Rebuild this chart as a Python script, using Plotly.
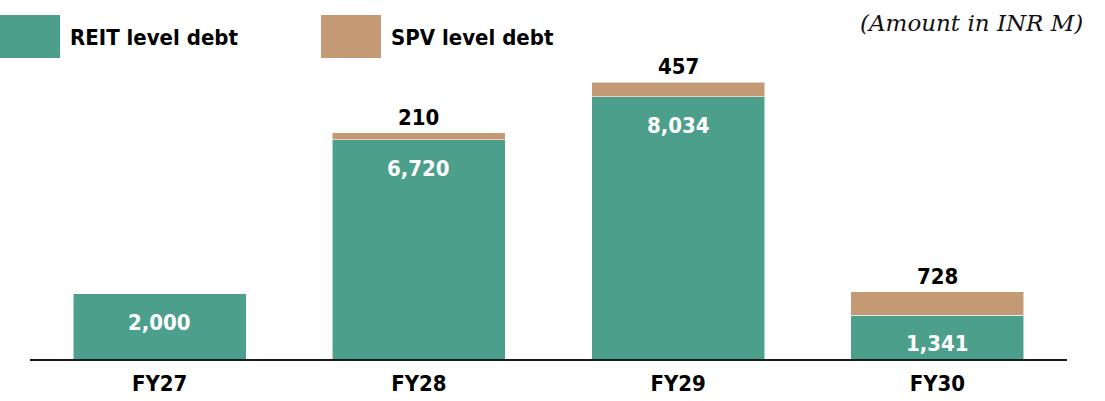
import plotly.graph_objects as go

categories = ["FY27", "FY28", "FY29", "FY30"]
reit_debt = [2000, 6720, 8034, 1341]
spv_debt = [0, 210, 457, 728]
reit_labels = ["2,000", "6,720", "8,034", "1,341"]
spv_labels = ["", "210", "457", "728"]

GREEN = "#4B9F8B"
TAN = "#C49A75"
FONT = "DejaVu Sans Condensed, DejaVu Sans, sans-serif"

fig = go.Figure()
fig.add_trace(go.Bar(x=categories, y=reit_debt, name="REIT level debt",
                     marker=dict(color=GREEN, line=dict(color="rgba(255,255,255,0.55)", width=1)),
                     hoverinfo="skip"))
fig.add_trace(go.Bar(x=categories, y=spv_debt, name="SPV level debt",
                     marker=dict(color=TAN, line=dict(color="rgba(255,255,255,0.55)", width=1)),
                     hoverinfo="skip"))

annotations = []
for c, r, s, rl, sl in zip(categories, reit_debt, spv_debt, reit_labels, spv_labels):
    annotations.append(dict(x=c, y=r, xref="x", yref="y", text=rl, showarrow=False,
                            yanchor="top", yshift=-14,
                            font=dict(family=FONT, size=22, color="white", weight="bold")))
    if sl:
        annotations.append(dict(x=c, y=r + s, xref="x", yref="y", text=sl, showarrow=False,
                                yanchor="bottom", yshift=1,
                                font=dict(family=FONT, size=22, color="black", weight="bold")))

# legend (custom swatches)
legend_items = [("REIT level debt", GREEN, 0), ("SPV level debt", TAN, 321)]
shapes = []
for label, col, x0 in legend_items:
    shapes.append(dict(type="rect", xref="paper", yref="paper",
                       x0=(x0 - 30) / 1037, x1=(x0 + 60 - 30) / 1037,
                       y0=(359 - 58) / 299, y1=(359 - 15) / 299,
                       fillcolor=col, line=dict(width=0), layer="above"))
    annotations.append(dict(xref="paper", yref="paper", x=(x0 + 68 - 30) / 1037,
                            y=(359 - 37) / 299, xanchor="left", yanchor="middle",
                            text=label, showarrow=False,
                            font=dict(family=FONT, size=22, color="black", weight="bold")))

annotations.append(dict(xref="paper", yref="paper", x=(1085 - 30) / 1037, y=(359 - 23) / 299,
                        xanchor="right", yanchor="middle", showarrow=False,
                        text="(Amount in INR M)",
                        font=dict(family="DejaVu Serif, serif", size=23, color="#111",
                                  style="italic")))

fig.update_layout(
    width=1105, height=401,
    margin=dict(l=30, r=38, t=60, b=42, autoexpand=False),
    barmode="stack", bargap=0.333,
    plot_bgcolor="white", paper_bgcolor="white",
    showlegend=False,
    annotations=annotations, shapes=shapes,
    xaxis=dict(showline=True, linecolor="#1a1a1a", linewidth=2, ticks="",
               automargin=False, ticklabelstandoff=4,
               tickfont=dict(family=FONT, size=22, color="black", weight="bold"),
               showgrid=False, fixedrange=True),
    yaxis=dict(range=[0, 9166], visible=False, showgrid=False, fixedrange=True,
               automargin=False),
)

fig.write_html("out.html", config={"displayModeBar": False},
               post_script="document.body.style.margin='0';document.body.style.overflow='hidden';")
